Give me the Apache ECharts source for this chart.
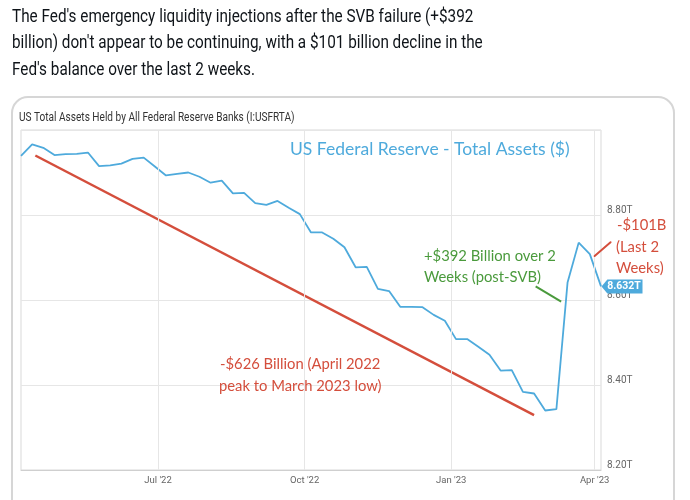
<!DOCTYPE html>
<html>
<head>
<meta charset="utf-8">
<script src="https://cdn.jsdelivr.net/npm/echarts@6/dist/echarts.min.js"></script>
<style>
html,body{margin:0;padding:0;background:#fff;}
#chart{width:690px;height:500px;}
</style>
</head>
<body>
<div id="chart"></div>
<script>
// ---- Data ----
const dates = [
 '2022-04-06','2022-04-13','2022-04-20','2022-04-27','2022-05-04','2022-05-11','2022-05-18','2022-05-25',
 '2022-06-01','2022-06-08','2022-06-15','2022-06-22','2022-06-29','2022-07-06','2022-07-13','2022-07-20',
 '2022-07-27','2022-08-03','2022-08-10','2022-08-17','2022-08-24','2022-08-31','2022-09-07','2022-09-14',
 '2022-09-21','2022-09-28','2022-10-05','2022-10-12','2022-10-19','2022-10-26','2022-11-02','2022-11-09',
 '2022-11-16','2022-11-23','2022-11-30','2022-12-07','2022-12-14','2022-12-21','2022-12-28','2023-01-04',
 '2023-01-11','2023-01-18','2023-01-25','2023-02-01','2023-02-08','2023-02-15','2023-02-22','2023-03-01',
 '2023-03-08','2023-03-15','2023-03-22','2023-03-29','2023-04-05'
];
const totalAssets = [
 8.939,8.966,8.958,8.941,8.943,8.944,8.947,8.915,
 8.917,8.921,8.932,8.935,8.914,8.893,8.897,8.900,
 8.890,8.876,8.881,8.851,8.852,8.828,8.824,8.833,
 8.817,8.802,8.759,8.759,8.744,8.724,8.677,8.678,
 8.626,8.621,8.584,8.584,8.583,8.565,8.551,8.508,
 8.508,8.490,8.471,8.434,8.435,8.384,8.380,8.340,
 8.343,8.641,8.735,8.708,8.632
];
const tickDates = ['2022-07-01','2022-10-01','2023-01-01','2023-04-01'];
const tickLabels = ["Jul '22","Oct '22","Jan '23","Apr '23"];
const yTicks = [8.2, 8.4, 8.6, 8.8, 9.0];

// hand-drawn annotation lines (date, value)
const declineLine = [['2022-04-15', 8.940], ['2023-02-22', 8.329]];
const sviLine = [['2023-02-23', 8.632], ['2023-03-11', 8.596]];
const lastTwoLine = [['2023-04-01', 8.7035], ['2023-04-11', 8.736]];

const tweetLines = [
 "The Fed's emergency liquidity injections after the SVB failure (+$392",
 "billion) don't appear to be continuing, with a $101 billion decline in the",
 "Fed's balance over the last 2 weeks."
];
const chartTitle = 'US Total Assets Held by All Federal Reserve Banks (I:USFRTA)';

// ---- Chart ----
const chart = echarts.init(document.getElementById('chart'), null, {renderer:'canvas'});
const blue = '#4eaadc', red = '#d44e3c', green = '#4a9a3c';
const hand = 'Lato, "Noto Sans", sans-serif';
const sans = 'Roboto, "Noto Sans", sans-serif';

const graphic = [
 {id:'card', type:'rect', silent:true, z:-1, shape:{x:12, y:97, width:662, height:430, r:16},
  style:{fill:'none', stroke:'#d6d6d6', lineWidth:2}},
 {id:'ctitle', type:'text', x:19, y:118, scaleX:0.84, style:{text:chartTitle, fill:'#333', font:'12px '+sans, verticalAlign:'middle'}},
];
tweetLines.forEach((t,i)=>{
 graphic.push({id:'tw'+i, type:'text', x:12, y:17 + i*26.5, scaleX:0.85,
  style:{text:t, fill:'#0f1419', font:'18px '+sans, verticalAlign:'middle'}});
});
const notes = [
 {t:'US Federal Reserve - Total Assets ($)', x:290, y:149, c:blue, s:17.5},
 {t:'+$392 Billion over 2', x:424, y:256, c:green, s:14.8},
 {t:'Weeks (post-SVB)', x:424, y:277, c:green, s:14.8},
 {t:'-$101B', x:617, y:225, c:red, s:14.8},
 {t:'(Last 2', x:616, y:247, c:red, s:14.8},
 {t:'Weeks)', x:616, y:268, c:red, s:14.8},
 {t:'-$626 Billion (April 2022', x:220, y:364, c:red, s:14.8},
 {t:'peak to March 2023 low)', x:219, y:386, c:red, s:14.8}
];
notes.forEach((n,i)=>{
 graphic.push({id:'note'+i, type:'text', x:n.x, y:n.y, z:10, style:{text:n.t, fill:n.c, font:n.s+'px '+hand, verticalAlign:'middle'}});
});

const lastIdx = dates.length - 1;
const option = {
 animation:false,
 backgroundColor:'#fff',
 graphic: graphic,
 grid:{left:21, right:89, top:130, bottom:30, show:true, borderColor:'#d9d9d9', borderWidth:1},
 xAxis:{
  type:'time', min:dates[0], max:dates[lastIdx],
  axisLine:{show:true, lineStyle:{color:'#cfcfcf'}},
  axisTick:{show:false}, axisLabel:{show:false}, splitLine:{show:false}
 },
 yAxis:{
  type:'value', position:'right', min:yTicks[0], max:yTicks[yTicks.length-1], interval:0.2,
  axisLine:{show:false}, axisTick:{show:false},
  splitLine:{show:true, lineStyle:{color:'#e6e6e6'}},
  axisLabel:{formatter:(v)=>v.toFixed(2)+'T', showMaxLabel:false, verticalAlign:'bottom',
   color:'#666', fontSize:10, margin:6, fontFamily:sans}
 },
 series:[
  {type:'line', name:'grid', data:[], z:1, silent:true,
   markLine:{silent:true, symbol:['none','none'], animation:false,
    lineStyle:{color:'#e6e6e6', type:'solid', width:1},
    label:{position:'start', color:'#666', fontSize:9.5, fontFamily:sans, distance:6},
    data:tickDates.map((d,i)=>({xAxis:d, label:{formatter:tickLabels[i]}}))}
  },
  {type:'line', name:'Total Assets', data:dates.map((d,i)=>[d,totalAssets[i]]), symbol:'none',
   lineStyle:{color:blue, width:1.8}, z:3,
   markPoint:{symbol:'path://M0,7 L6,0 L42,0 L42,14 L6,14 Z', symbolSize:[41,14], symbolOffset:[21,0],
    itemStyle:{color:blue},
    label:{show:true, color:'#fff', fontWeight:'bold', fontSize:10.5, offset:[2,0],
     fontFamily:sans, formatter:(p)=>p.value.toFixed(3)+'T'},
    data:[{coord:[dates[lastIdx], totalAssets[lastIdx]], value:totalAssets[lastIdx]}]}
  },
  {type:'line', data:declineLine, symbol:'none', lineStyle:{color:red, width:2.5}, z:4},
  {type:'line', data:sviLine, symbol:'none', lineStyle:{color:green, width:2}, z:4}
 ]
};
chart.setOption(option);

// short red stroke next to the last two weeks, placed through the chart's own scales
const p1 = chart.convertToPixel({gridIndex:0}, lastTwoLine[0]);
const p2 = chart.convertToPixel({gridIndex:0}, lastTwoLine[1]);
chart.setOption({graphic:[{id:'lastTwo', type:'line', z:10, silent:true,
 shape:{x1:p1[0], y1:p1[1], x2:p2[0], y2:p2[1]}, style:{stroke:red, lineWidth:2, lineCap:'round'}}]});
</script>
</body>
</html>
